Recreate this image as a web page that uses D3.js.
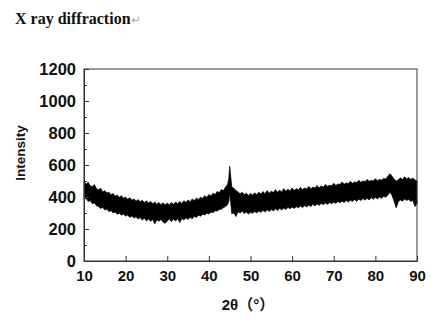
<!DOCTYPE html>
<html><head><meta charset="utf-8">
<script src="https://cdn.jsdelivr.net/npm/d3@7"></script>
<style>body{margin:0;background:#fff}svg{display:block}</style>
</head><body>
<script>
// Diffraction angle (2θ, degrees) and the read-off upper / lower edges of the noisy trace
const angle = [10,10.5,11,11.5,12,12.5,13,13.5,14,14.5,15,15.5,16,16.5,17,17.5,18,18.5,19,19.5,
  20,20.5,21,21.5,22,22.5,23,23.5,24,24.5,25,25.5,26,26.5,27,27.5,28,28.5,29,29.5,
  30,30.5,31,31.5,32,32.5,33,33.5,34,34.5,35,35.5,36,36.5,37,37.5,38,38.5,39,39.5,
  40,40.5,41,41.5,42,42.5,43,43.5,44,44.5,44.8,45.0,45.2,45.5,46,46.5,47,47.5,48,48.5,49,49.5,
  50,50.5,51,51.5,52,52.5,53,53.5,54,54.5,55,55.5,56,56.5,57,57.5,58,58.5,59,59.5,
  60,60.5,61,61.5,62,62.5,63,63.5,64,64.5,65,65.5,66,66.5,67,67.5,68,68.5,69,69.5,
  70,70.5,71,71.5,72,72.5,73,73.5,74,74.5,75,75.5,76,76.5,77,77.5,78,78.5,79,79.5,
  80,80.5,81,81.5,82,82.5,83,83.5,84,84.5,85,85.5,86,86.5,87,87.5,88,88.5,89,89.5,90];
const upper = [498,480,492,470,466,478,452,446,455,432,440,425,430,414,422,405,412,398,408,392,
  400,386,395,380,388,374,384,370,380,366,376,362,372,358,368,355,366,352,364,350,
  362,352,366,354,368,358,372,360,376,366,382,370,388,376,394,384,400,390,408,398,
  416,406,424,416,434,428,446,440,462,478,520,592,545,462,455,440,432,420,430,414,424,410,
  422,412,426,414,430,418,434,420,440,424,436,428,446,430,442,432,452,436,448,438,
  456,440,452,444,460,446,456,450,466,452,462,456,472,458,468,462,478,466,474,470,
  486,472,482,478,494,480,488,484,498,486,494,490,504,492,500,496,510,498,504,500,
  514,502,510,506,516,512,530,546,530,512,500,508,520,510,526,514,522,510,518,506,500];
const lower = [385,392,372,378,358,362,345,340,328,335,318,325,308,315,300,306,292,300,286,294,
  280,288,272,282,268,276,262,272,255,268,250,262,248,260,232,258,248,260,242,236,
  250,262,246,262,250,264,240,266,256,270,260,274,264,280,272,286,280,292,288,298,
  294,306,302,314,312,322,324,334,340,352,372,420,380,296,300,278,308,300,312,296,306,294,
  304,298,310,300,312,304,316,306,320,310,322,312,326,316,330,318,332,322,336,326,
  338,328,340,332,344,334,346,338,350,340,354,344,356,348,360,352,362,354,366,358,
  368,360,372,364,374,366,378,368,380,372,384,374,386,378,390,380,392,382,396,386,
  398,388,400,392,404,398,412,430,410,372,332,370,382,374,388,378,386,372,380,340,360];
const xTicks = [10,20,30,40,50,60,70,80,90];
const yTicks = [0,200,400,600,800,1000,1200];
const yMinor = [100,300,500,700,900,1100];
const titleText = "X ray diffraction";
const xTitle = "2θ（°）";
const yTitle = "Intensity";

const W = 440, H = 330;
const m = {l:84, r:23, t:69, b:69};
const svg = d3.select("body").append("svg").attr("width", W).attr("height", H);

const x = d3.scaleLinear().domain([10,90]).range([m.l, W - m.r]);
const y = d3.scaleLinear().domain([0,1200]).range([H - m.b, m.t]);

// title
const t = svg.append("text").attr("x", 15).attr("y", 24)
  .attr("font-family", "'Liberation Serif','Times New Roman',serif")
  .attr("font-weight", "bold").attr("font-size", 16).attr("fill", "#111")
  .text(titleText);
t.append("tspan").attr("fill", "#aaa").attr("font-weight", "normal").attr("font-size", 12).text("↵");

// data band
const rows = angle.map((a,i) => ({a, hi: upper[i], lo: lower[i]}));
const area = d3.area().x(d => x(d.a)).y0(d => y(d.lo)).y1(d => y(d.hi));
svg.append("path").datum(rows).attr("d", area).attr("fill", "#000")
  .attr("stroke", "#000").attr("stroke-width", 0.7).attr("stroke-linejoin", "miter");

// axes with inward ticks
const xAxis = d3.axisBottom(x).tickValues(xTicks).tickSize(-5).tickSizeOuter(0).tickPadding(9);
const gx = svg.append("g").attr("transform", `translate(0,${H - m.b})`).call(xAxis);
const yAxis = d3.axisLeft(y).tickValues(yTicks).tickFormat(d3.format("d")).tickSize(-5).tickSizeOuter(0).tickPadding(8);
const gy = svg.append("g").attr("transform", `translate(${m.l},0)`).call(yAxis);
const yAxisMinor = d3.axisLeft(y).tickValues(yMinor).tickSize(-3).tickSizeOuter(0).tickFormat("");
const gym = svg.append("g").attr("transform", `translate(${m.l},0)`).call(yAxisMinor);
gym.select(".domain").remove();

[gx, gy, gym].forEach(g => {
  g.selectAll("line").attr("stroke", "#333");
  g.select(".domain").attr("stroke", "#333");
});
gx.selectAll("text").attr("font-family", "Arial,'Liberation Sans',sans-serif").attr("font-weight", "bold")
  .attr("font-size", 15).attr("fill", "#111");
gy.selectAll("text").attr("font-family", "Arial,'Liberation Sans',sans-serif").attr("font-weight", "bold")
  .attr("font-size", 16.5).attr("fill", "#111").attr("dy", "0.36em");

// frame
svg.append("rect").attr("x", m.l).attr("y", m.t).attr("width", W - m.r - m.l).attr("height", H - m.b - m.t)
  .attr("fill", "none").attr("stroke", "#333").attr("stroke-width", 1);

// axis titles
svg.append("text").attr("x", 248).attr("y", 310).attr("text-anchor", "middle")
  .attr("font-family", "Arial,'Liberation Sans','Noto Sans CJK SC',sans-serif")
  .attr("font-weight", "bold").attr("font-size", 15).attr("fill", "#111").text(xTitle);
svg.append("text").attr("transform", "translate(25,153) rotate(-90)").attr("text-anchor", "middle")
  .attr("font-family", "Arial,'Liberation Sans',sans-serif")
  .attr("font-weight", "bold").attr("font-size", 13.5).attr("fill", "#111").text(yTitle);
</script>
</body></html>
